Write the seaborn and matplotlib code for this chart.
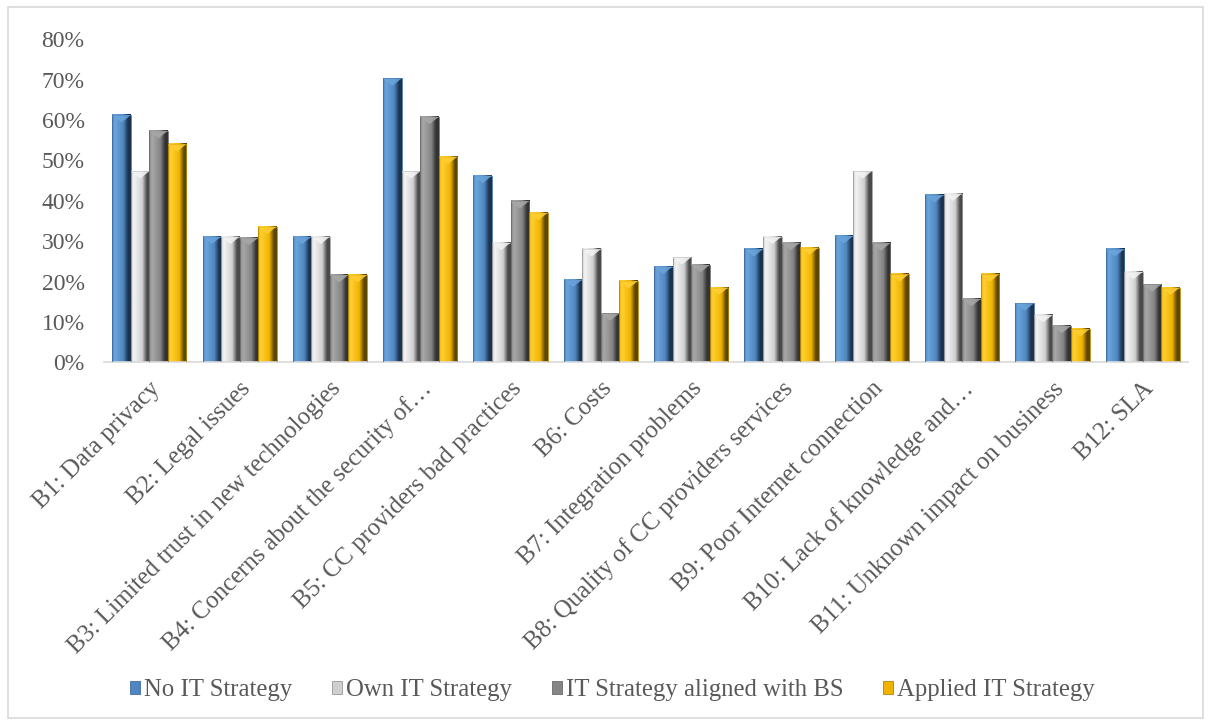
import numpy as np
import pandas as pd
import matplotlib
matplotlib.use("Agg")
import matplotlib.pyplot as plt
import seaborn as sns
from matplotlib.colors import LinearSegmentedColormap
from matplotlib.patches import Rectangle, Polygon

# --- data (percent) ---
barriers = ["B1: Data privacy", "B2: Legal issues",
            "B3: Limited trust in new technologies",
            "B4: Concerns about the security of…",
            "B5: CC providers bad practices", "B6: Costs",
            "B7: Integration problems",
            "B8: Quality of CC providers services",
            "B9: Poor Internet connection",
            "B10: Lack of knowledge and…",
            "B11: Unknown impact on business", "B12: SLA"]
groups = ["No IT Strategy", "Own IT Strategy",
          "IT Strategy aligned with BS", "Applied IT Strategy"]
no_it = [61.2, 31.1, 31.1, 70.3, 46.2, 20.5, 23.7, 28.0, 31.3, 41.4, 14.6, 28.0]
own_it = [47.3, 31.1, 31.1, 47.3, 29.6, 28.0, 26.0, 31.1, 47.3, 41.8, 11.7, 22.4]
aligned_bs = [57.3, 30.8, 21.6, 60.8, 39.9, 12.1, 24.1, 29.6, 29.5, 15.7, 9.0, 19.3]
applied_it = [54.0, 33.6, 21.6, 50.9, 37.0, 20.1, 18.5, 28.4, 21.8, 21.8, 8.2, 18.5]

# (edge, highlight, base, shadow) per series
shades = [("#3f6e9e", "#6aa5dc", "#4f86c0", "#1c3350"),
          ("#9a9a9a", "#f4f4f4", "#cfcfcf", "#4a4a4a"),
          ("#6a6a6a", "#a8a8a8", "#858585", "#333333"),
          ("#b38600", "#ffcf33", "#f0b400", "#5e4600")]

df = pd.DataFrame({"barrier": barriers * 4,
                   "group": np.repeat(groups, len(barriers)),
                   "value": no_it + own_it + aligned_bs + applied_it})

sns.set_style("white")
plt.rcParams['font.family'] = ['Liberation Serif', 'DejaVu Serif']
text_col = "#595959"

fig = plt.figure(figsize=(12.1, 7.24), dpi=100)
ax = fig.add_axes([0.086, 0.4996, 0.8958, 0.4461])

sns.barplot(data=df, x="barrier", y="value", hue="group", order=barriers,
            hue_order=groups, palette=[s[2] for s in shades],
            width=0.82, gap=0, saturation=1, ax=ax)

# bevelled look: gradient fill inside each bar + light top triangle
to_data = ax.transData.inverted()
for cont, (edge, light, base, dark) in zip(ax.containers, shades):
    cmap = LinearSegmentedColormap.from_list(
        "bev", [(0, base), (0.15, light), (0.6, base), (0.85, dark), (1, dark)])
    for bar in cont:
        x0, w, h = bar.get_x(), bar.get_width(), bar.get_height()
        ax.imshow(np.linspace(0, 1, 64).reshape(1, -1), cmap=cmap,
                  extent=[x0, x0 + w, 0, h], aspect="auto", zorder=2,
                  interpolation="bilinear")
        bar.set_facecolor("none")
        bar.set_edgecolor(edge)
        bar.set_linewidth(0.6)
        bar.set_zorder(3)
        # triangle depth ~ 8 px
        d = to_data.transform((0, 0))[1] - to_data.transform((0, 8))[1]
        ax.add_patch(Polygon([(x0, h), (x0 + w, h), (x0 + w / 2, h + d)],
                             closed=True, facecolor=light, edgecolor="none",
                             alpha=0.85, zorder=3))

ax.set_xlim(-0.5, len(barriers) - 0.5)
ax.set_ylim(0, 80)
ax.set_yticks(np.arange(0, 81, 10))
ax.set_yticklabels([f"{v}%" for v in range(0, 81, 10)])
ax.set_xlabel("")
ax.set_ylabel("")
ax.tick_params(axis="y", length=0, pad=14, labelsize=17, labelcolor=text_col)
ax.tick_params(axis="x", length=0, pad=11, labelsize=17.8, labelcolor=text_col)
for lab in ax.get_xticklabels():
    lab.set_rotation(45)
    lab.set_ha("right")
    lab.set_va("top")
    lab.set_rotation_mode("anchor")

for side in ["top", "right", "left"]:
    ax.spines[side].set_visible(False)
ax.spines["bottom"].set_color("#d9d9d9")
ax.spines["bottom"].set_linewidth(1.2)

ax.get_legend().remove()
handles = [Rectangle((0, 0), 1, 1, facecolor=s[2], edgecolor=s[0], lw=0.6)
           for s in shades]
fig.legend(handles, groups, loc="center", bbox_to_anchor=(0.506, 0.047),
           ncol=4, frameon=False, fontsize=17.8, labelcolor=text_col,
           handlelength=0.42, handleheight=0.42, handletextpad=0.15,
           columnspacing=1.6)

# outer chart border
fig.add_artist(Rectangle((0.0066, 0.008), 0.9876, 0.983,
                         transform=fig.transFigure, fill=False,
                         edgecolor="#d9d9d9", linewidth=1.2))

fig.savefig("out.png", dpi=100)
